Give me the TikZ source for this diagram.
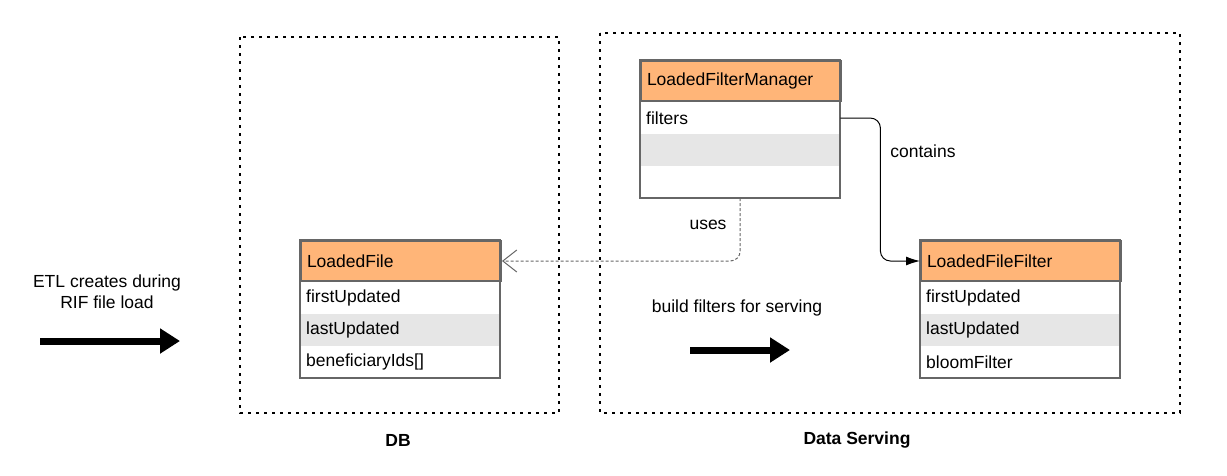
\documentclass[tikz,border=0pt]{standalone}
\usepackage{fontspec}
\setmainfont{Liberation Sans}
\usetikzlibrary{arrows.meta,positioning}

\definecolor{headorange}{RGB}{255,181,120}
\definecolor{rowgray}{RGB}{230,230,230}
\definecolor{linegray}{RGB}{102,102,102}

\tikzset{
  every node/.style={font=\fontsize{17.5}{21}\selectfont},
  groupbox/.style={draw=black, line width=2pt, dash pattern=on 3pt off 5pt},
  classhead/.style={draw=linegray, line width=2pt, fill=headorange, anchor=north west,
    minimum width=200pt, minimum height=40pt, text width=188pt, inner xsep=6pt, align=left},
  classrow/.style={fill=#1, anchor=north west, minimum width=200pt, minimum height=31.67pt,
    text width=188pt, inner xsep=6pt, inner ysep=0pt, align=left},
  classrow/.default=white,
  classframe/.style={draw=linegray, line width=2pt},
  bigarrow/.style={line width=7pt, -{Triangle[length=20pt,width=24pt]}}
}

\begin{document}
\begin{tikzpicture}[x=1pt,y=-1pt]
  \useasboundingbox (0,0) rectangle (1227,475);

  % Groups
  \draw[groupbox] (240,37) rectangle (559,413);
  \draw[groupbox] (600,33) rectangle (1180,413);
  \node[font=\fontsize{17.5}{21}\selectfont\bfseries] (dblabel) at (398,440) {DB};
  \node[font=\fontsize{17.5}{21}\selectfont\bfseries] (servlabel) at (857,440) {Data Serving};

  % LoadedFilterManager
  \node[classhead] (lfm) at (640,60) {LoadedFilterManager};
  \node[classrow, below=0pt of lfm.south west, anchor=north west] (lfm-r1) {filters};
  \node[classrow=rowgray, below=0pt of lfm-r1.south west, anchor=north west] (lfm-r2) {};
  \node[classrow, below=0pt of lfm-r2.south west, anchor=north west] (lfm-r3) {};
  \draw[classframe] (lfm.north west) rectangle (lfm-r3.south east);

  % LoadedFile
  \node[classhead] (lf) at (300,240) {LoadedFile};
  \node[classrow, below=0pt of lf.south west, anchor=north west] (lf-r1) {firstUpdated};
  \node[classrow=rowgray, below=0pt of lf-r1.south west, anchor=north west] (lf-r2) {lastUpdated};
  \node[classrow, below=0pt of lf-r2.south west, anchor=north west] (lf-r3) {beneficiaryIds[]};
  \draw[classframe] (lf.north west) rectangle (lf-r3.south east);

  % LoadedFileFilter
  \node[classhead] (lff) at (920,240) {LoadedFileFilter};
  \node[classrow, below=0pt of lff.south west, anchor=north west] (lff-r1) {firstUpdated};
  \node[classrow=rowgray, below=0pt of lff-r1.south west, anchor=north west] (lff-r2) {lastUpdated};
  \node[classrow, below=0pt of lff-r2.south west, anchor=north west] (lff-r3) {bloomFilter};
  \draw[classframe] (lff.north west) rectangle (lff-r3.south east);

  % Relations
  \draw[line width=1pt, rounded corners=10pt, -{Latex[length=14pt,width=9pt]}]
    (lfm-r1.east) -- ++(40,0) |- (lff.west);
  \node (contains) at (923,151) {contains};
  \draw[linegray, line width=1pt, dash pattern=on 3pt off 2pt, rounded corners=10pt,
    -{Straight Barb[length=14pt,width=22pt,line width=1pt]}]
    (lfm-r3.south) |- (lf.east);
  \node (uses) at (708,225) {uses};

  % Process arrows
  \node[align=center] (etl) at (107,292) {ETL creates during\\RIF file load};
  \coordinate (etl-a) at (40,341);
  \coordinate (etl-b) at (180,341);
  \draw[bigarrow] (etl-a) -- (etl-b);
  \node (build) at (737,308) {build filters for serving};
  \coordinate (build-a) at (690,350);
  \coordinate (build-b) at (790,350);
  \draw[bigarrow] (build-a) -- (build-b);
\end{tikzpicture}
\end{document}
